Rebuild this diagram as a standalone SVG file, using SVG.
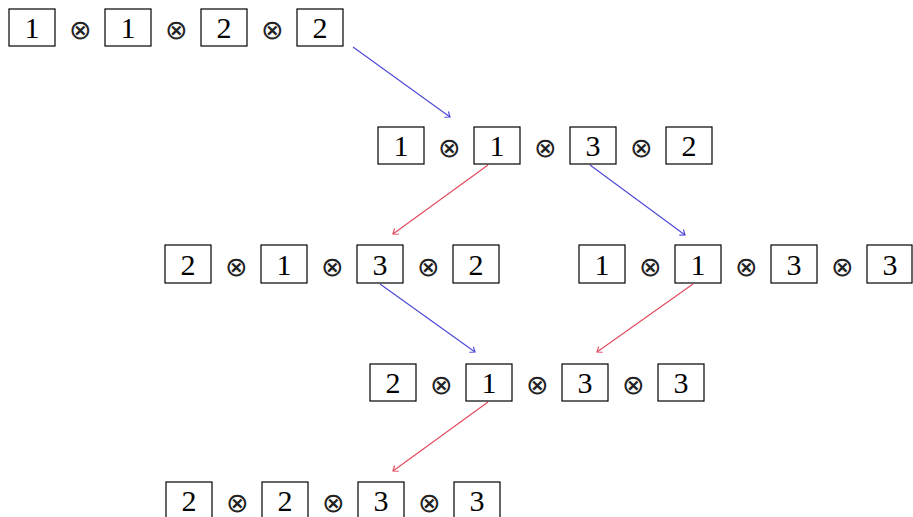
<svg xmlns="http://www.w3.org/2000/svg" width="913" height="517" viewBox="0 0 913 517">
<style>
.b{fill:none;stroke:#000;stroke-width:1.2}
.d{font-family:"Liberation Serif","Times New Roman",serif;font-size:30px;text-anchor:middle;fill:#000}
.o{font-family:"DejaVu Sans",sans-serif;font-size:27px;font-weight:200;text-anchor:middle;fill:#222}
.cb{stroke:#4b46d8;stroke-width:1.1;fill:none}
.cr{stroke:#e2485c;stroke-width:1.1;fill:none}
</style>
<defs>
<marker id="mb" markerUnits="userSpaceOnUse" markerWidth="12" markerHeight="12" viewBox="-6 -6 12 12" refX="0" refY="0" orient="auto">
<path d="M-4.5,-3.5 Q-1,-0.8 0,0 Q-1,0.8 -4.5,3.5" fill="none" stroke="#4b46d8" stroke-width="1.1"/>
</marker>
<marker id="mr" markerUnits="userSpaceOnUse" markerWidth="12" markerHeight="12" viewBox="-6 -6 12 12" refX="0" refY="0" orient="auto">
<path d="M-4.5,-3.5 Q-1,-0.8 0,0 Q-1,0.8 -4.5,3.5" fill="none" stroke="#e2485c" stroke-width="1.1"/>
</marker>
</defs>
<rect width="913" height="517" fill="#fff"/>
<g id="connectors">
<line class="cb" x1="353" y1="47" x2="450" y2="117" marker-end="url(#mb)"/>
<line class="cr" x1="488" y1="165" x2="393" y2="234" marker-end="url(#mr)"/>
<line class="cb" x1="590" y1="165" x2="685" y2="235" marker-end="url(#mb)"/>
<line class="cb" x1="380" y1="284" x2="475" y2="352" marker-end="url(#mb)"/>
<line class="cr" x1="693" y1="284" x2="597" y2="352" marker-end="url(#mr)"/>
<line class="cr" x1="488" y1="402" x2="393" y2="471" marker-end="url(#mr)"/>
</g>
<g id="n1" transform="translate(9,9)">
<rect class="b" x="0" y="0" width="46" height="37"/><text class="d" x="23" y="29">1</text>
<text class="o" x="71" y="30">⊗</text>
<rect class="b" x="96" y="0" width="46" height="37"/><text class="d" x="119" y="29">1</text>
<text class="o" x="167" y="30">⊗</text>
<rect class="b" x="192" y="0" width="46" height="37"/><text class="d" x="215" y="29">2</text>
<text class="o" x="263" y="30">⊗</text>
<rect class="b" x="288" y="0" width="46" height="37"/><text class="d" x="311" y="29">2</text>
</g>
<g id="n2" transform="translate(378,127)">
<rect class="b" x="0" y="0" width="46" height="37"/><text class="d" x="23" y="29">1</text>
<text class="o" x="71" y="30">⊗</text>
<rect class="b" x="96" y="0" width="46" height="37"/><text class="d" x="119" y="29">1</text>
<text class="o" x="167" y="30">⊗</text>
<rect class="b" x="192" y="0" width="46" height="37"/><text class="d" x="215" y="29">3</text>
<text class="o" x="263" y="30">⊗</text>
<rect class="b" x="288" y="0" width="46" height="37"/><text class="d" x="311" y="29">2</text>
</g>
<g id="n3" transform="translate(165,245)">
<rect class="b" x="0" y="0" width="46" height="38"/><text class="d" x="23" y="30">2</text>
<text class="o" x="71" y="31">⊗</text>
<rect class="b" x="96" y="0" width="46" height="38"/><text class="d" x="119" y="30">1</text>
<text class="o" x="167" y="31">⊗</text>
<rect class="b" x="192" y="0" width="46" height="38"/><text class="d" x="215" y="30">3</text>
<text class="o" x="263" y="31">⊗</text>
<rect class="b" x="288" y="0" width="46" height="38"/><text class="d" x="311" y="30">2</text>
</g>
<g id="n4" transform="translate(579,245)">
<rect class="b" x="0" y="0" width="46" height="38"/><text class="d" x="23" y="30">1</text>
<text class="o" x="71" y="31">⊗</text>
<rect class="b" x="96" y="0" width="46" height="38"/><text class="d" x="119" y="30">1</text>
<text class="o" x="167" y="31">⊗</text>
<rect class="b" x="192" y="0" width="46" height="38"/><text class="d" x="215" y="30">3</text>
<text class="o" x="263" y="31">⊗</text>
<rect class="b" x="288" y="0" width="45" height="38"/><text class="d" x="311" y="30">3</text>
</g>
<g id="n5" transform="translate(370,364)">
<rect class="b" x="0" y="0" width="46" height="37"/><text class="d" x="23" y="29">2</text>
<text class="o" x="71" y="30">⊗</text>
<rect class="b" x="96" y="0" width="46" height="37"/><text class="d" x="119" y="29">1</text>
<text class="o" x="167" y="30">⊗</text>
<rect class="b" x="192" y="0" width="46" height="37"/><text class="d" x="215" y="29">3</text>
<text class="o" x="263" y="30">⊗</text>
<rect class="b" x="288" y="0" width="46" height="37"/><text class="d" x="311" y="29">3</text>
</g>
<g id="n6" transform="translate(166,482)">
<rect class="b" x="0" y="0" width="46" height="37"/><text class="d" x="23" y="29">2</text>
<text class="o" x="71" y="30">⊗</text>
<rect class="b" x="96" y="0" width="46" height="37"/><text class="d" x="119" y="29">2</text>
<text class="o" x="167" y="30">⊗</text>
<rect class="b" x="192" y="0" width="46" height="37"/><text class="d" x="215" y="29">3</text>
<text class="o" x="263" y="30">⊗</text>
<rect class="b" x="288" y="0" width="46" height="37"/><text class="d" x="311" y="29">3</text>
</g>
</svg>
